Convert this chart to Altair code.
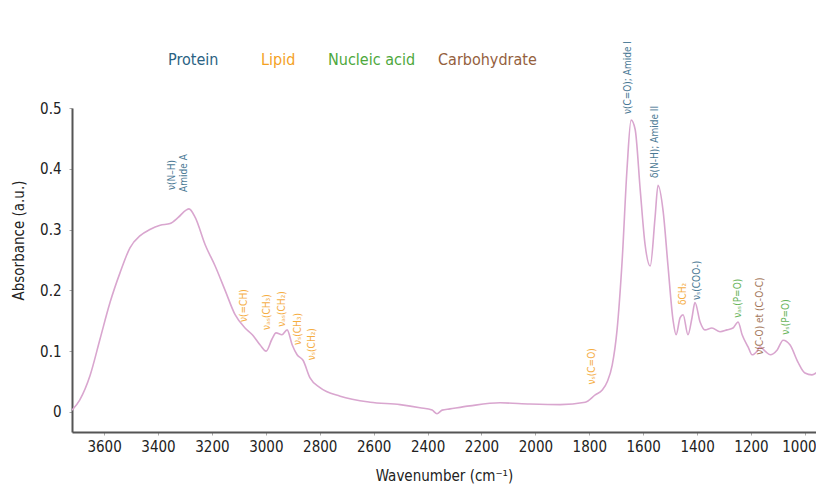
import altair as alt
import pandas as pd

# Spectrum trace
wavenumber = [3719, 3690, 3652, 3615, 3578, 3540, 3504, 3466, 3430, 3392, 3355, 3325,
              3296, 3285, 3262, 3225, 3188, 3151, 3114, 3077, 3050, 3021, 2999, 2977,
              2962, 2940, 2921, 2902, 2884, 2862, 2836, 2799, 2724, 2613, 2502, 2428,
              2383, 2365, 2346, 2317, 2243, 2131, 2020, 1908, 1815, 1778, 1752, 1733,
              1715, 1697, 1678, 1660, 1645, 1630, 1611, 1593, 1574, 1556, 1545, 1526,
              1508, 1489, 1478, 1463, 1452, 1434, 1419, 1408, 1389, 1371, 1345, 1315,
              1289, 1267, 1248, 1233, 1211, 1196, 1178, 1167, 1148, 1129, 1103, 1081,
              1055, 1026, 1000, 974, 944, 930]
absorbance = [0.003, 0.02, 0.06, 0.12, 0.18, 0.23, 0.27, 0.29, 0.30, 0.307, 0.31, 0.32,
              0.332, 0.334, 0.32, 0.275, 0.24, 0.20, 0.16, 0.138, 0.127, 0.11, 0.10, 0.12,
              0.13, 0.127, 0.135, 0.11, 0.094, 0.085, 0.056, 0.04, 0.026, 0.016, 0.012, 0.007,
              0.003, -0.003, 0.003, 0.005, 0.01, 0.015, 0.013, 0.012, 0.016, 0.028, 0.036, 0.05,
              0.077, 0.135, 0.25, 0.40, 0.48, 0.465, 0.365, 0.275, 0.24, 0.32, 0.373, 0.33,
              0.24, 0.15, 0.127, 0.155, 0.16, 0.127, 0.155, 0.18, 0.148, 0.135, 0.138, 0.132,
              0.135, 0.138, 0.148, 0.127, 0.107, 0.094, 0.10, 0.107, 0.10, 0.094, 0.102, 0.118,
              0.11, 0.082, 0.064, 0.061, 0.069, 0.072]

# Band annotations
ann_text = ["ν(N–H)", "Amide A", "ν(=CH)", "νₐₛ(CH₃)", "νₐₛ(CH₂)", "νₛ(CH₃)", "νₛ(CH₂)",
            "νₛ(C=O)", "ν(C=O); Amide I", "δ(N-H); Amide II", "δCH₂", "νₛ(COO-)",
            "νₐₛ(P=O)", "ν(C-O) et (C-O-C)", "νₛ(P=O)"]
ann_wn = [3348, 3303, 3081, 2994, 2940, 2882, 2830, 1789, 1656, 1556, 1452, 1400,
          1248, 1167, 1070]
ann_y = [0.365, 0.362, 0.148, 0.135, 0.14, 0.11, 0.085, 0.045, 0.49, 0.385, 0.176,
         0.184, 0.155, 0.094, 0.127]
ann_class = ["Protein", "Protein", "Lipid", "Lipid", "Lipid", "Lipid", "Lipid", "Lipid",
             "Protein", "Protein", "Lipid", "Protein", "Nucleic acid", "Carbohydrate",
             "Nucleic acid"]

classes = ["Protein", "Lipid", "Nucleic acid", "Carbohydrate"]
class_colors = ["#2a6283", "#f4a11e", "#4ea83c", "#94603d"]
legend_px = [96, 189, 256, 366]

spec = pd.DataFrame({"wn": wavenumber, "ab": absorbance})
ann = pd.DataFrame({"text": ann_text, "wn": ann_wn, "ab": ann_y, "cls": ann_class})
leg = pd.DataFrame({"cls": classes, "px": legend_px})

FONT = "DejaVu Sans Condensed, Roboto, sans-serif"

xscale = alt.Scale(domain=[3719, 959], nice=False, zero=False)
yscale = alt.Scale(domain=[-0.033, 0.5], nice=False, zero=False)
cscale = alt.Scale(domain=classes, range=class_colors)

line = alt.Chart(spec).mark_line(color="#d9a6cf", strokeWidth=1.6, clip=True,
                                 interpolate="monotone").encode(
    x=alt.X("wn:Q", scale=xscale,
            axis=alt.Axis(title="Wavenumber (cm⁻¹)", values=list(range(3600, 999, -200)),
                          format="d", labelFontSize=15, titleFontSize=15, labelFont=FONT,
                          titleFont=FONT, labelColor="#222", titleColor="#222",
                          titleFontWeight="normal", domainColor="#555", domainWidth=2,
                          tickColor="#aaa", tickSize=3, labelPadding=4, titlePadding=14,
                          labelOffset={"condition": {"test": "datum.value == 1000", "value": -6},
                                       "value": 0},
                          grid=False)),
    y=alt.Y("ab:Q", scale=yscale,
            axis=alt.Axis(title="Absorbance (a.u.)", values=[0, 0.1, 0.2, 0.3, 0.4, 0.5],
                          labelExpr="datum.value == 0 ? '0' : format(datum.value, '.1f')",
                          labelFontSize=15, titleFontSize=15, labelFont=FONT,
                          titleFont=FONT, labelColor="#222", titleColor="#222",
                          titleFontWeight="normal", domainColor="#555", domainWidth=2,
                          tickColor="#aaa", tickSize=3, labelPadding=8, grid=False,
                          titleX=-54, titleY=132, titleBaseline="middle")),
)

labels = alt.Chart(ann).mark_text(angle=270, align="left", baseline="middle",
                                  fontSize=10, font=FONT, opacity=0.85).encode(
    x="wn:Q", y="ab:Q", text="text:N",
    color=alt.Color("cls:N", scale=cscale, legend=None),
)

legend = alt.Chart(leg).mark_text(align="left", baseline="middle", fontSize=16,
                                  font=FONT).encode(
    x=alt.X("px:Q", scale=None),
    y=alt.value(-48),
    text="cls:N",
    color=alt.Color("cls:N", scale=cscale, legend=None),
)

chart = (line + labels + legend).properties(
    width=744, height=324,
    autosize=alt.AutoSizeParams(type="none"),
    padding={"left": 64, "top": 100, "right": 0, "bottom": 57},
).configure_view(stroke=None)

chart.save("out.html", embed_options={"renderer": "svg", "actions": False})
